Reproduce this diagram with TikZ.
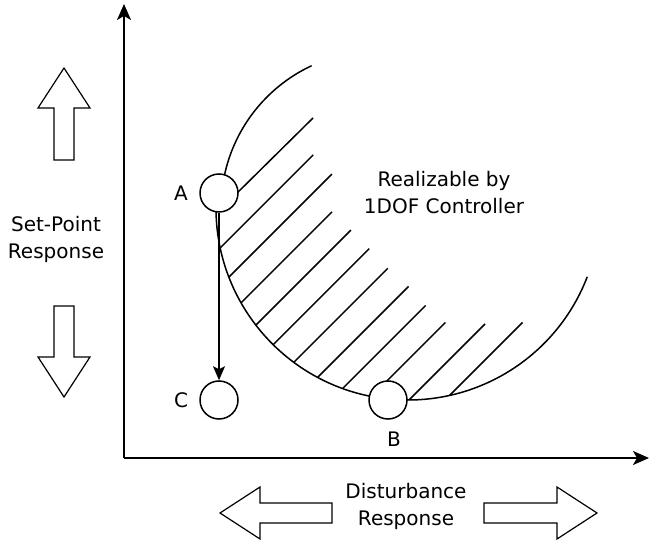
\documentclass[tikz,border=0pt]{standalone}
\usepackage{fontspec}
\setmainfont{DejaVu Sans}
\usetikzlibrary{arrows.meta}

\tikzset{
  dot/.style={circle, draw, fill=white, minimum size=19pt, inner sep=0pt},
  bigarrow/.style={draw, line width=0.6pt, line join=miter},
  tag/.style={font=\fontsize{10}{13.5}\selectfont, align=center, inner sep=0pt},
  axis/.style={line width=0.9pt, -{Stealth[length=8pt, width=7pt, inset=2pt]}},
}

\begin{document}
\begin{tikzpicture}[x=0.5pt, y=0.5pt, line width=0.75pt]
  \useasboundingbox (0,0) rectangle (651,545);
  % axes
  \coordinate (O) at (124,87);
  \coordinate (ytop) at (124,541);
  \coordinate (xend) at (649,87);
  \draw[axis] (O) -- (ytop);
  \draw[axis] (O) -- (xend);
  % boundary of the region
  \coordinate (ctr) at (408,337);
  \coordinate (ctrtop) at (378,337);
  \draw (ctr) ++(176:96pt) arc[start angle=176, end angle=339, radius=96pt];
  \draw (ctrtop) ++(170:78.5pt) arc[start angle=170, end angle=115, radius=78.5pt];
  % hatching
  \draw (228,343) -- ++(85,84);
  \foreach \a/\d in {192/93, 201.1/103, 209.6/91, 217.6/95, 225.4/96, 233.5/94,
      241.9/91, 250.1/83, 259/74, 270.3/76, 282.5/73} {
    \draw (ctr) ++(\a:96pt) -- ++(\d,\d);
  }
  % points
  \node[dot] (A) at (219,352) {};
  \node[dot] (C) at (219,145) {};
  \node[dot] (B) at (388,145) {};
  \draw[-{Stealth[length=7pt, width=6pt, inset=1.5pt]}] (A) -- (C);
  \node[tag] (lA) at (181,352) {A};
  \node[tag] (lC) at (181,145) {C};
  \node[tag] (lB) at (394,106) {B};
  \node[tag] (region) at (444,352) {Realizable by\\1DOF Controller};
  % response directions
  \foreach \x/\y/\r/\l in {64/385/90/92, 64/239/-90/91, 332/32/180/112, 484/32/0/113} {
    \draw[bigarrow, shift={(\x,\y)}, rotate=\r] (0,-10) -- (\l-40,-10) -- (\l-40,-26)
      -- (\l,0) -- (\l-40,26) -- (\l-40,10) -- (0,10) -- cycle;
  }
  \node[tag] (setpt) at (56,306) {Set-Point\\Response};
  \node[tag] (dist) at (406,39) {Disturbance\\Response};
\end{tikzpicture}
\end{document}
